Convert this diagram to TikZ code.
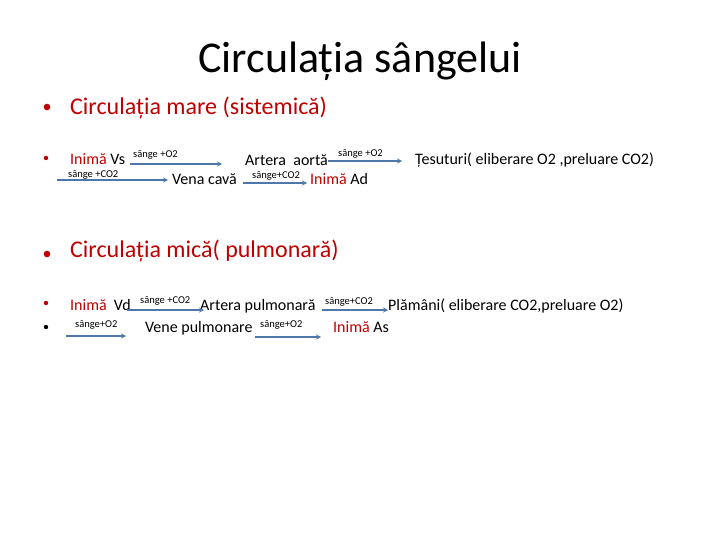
\documentclass[tikz,border=0pt]{standalone}
\usepackage{fontspec}
\setmainfont{Carlito}
\usetikzlibrary{arrows.meta}
\definecolor{slide_red}{RGB}{192,0,0}
\definecolor{arrow_blue}{RGB}{79,119,170}

\begin{document}
\begin{tikzpicture}[x=1pt,y=-1pt,line join=round,
	txt/.style={anchor=base west,inner sep=0pt,font=\fontsize{16}{19}\selectfont},
	head/.style={anchor=base west,inner sep=0pt,font=\fontsize{24}{29}\selectfont,text=slide_red},
	lbl/.style={anchor=base west,inner sep=0pt,font=\fontsize{10.5}{12}\selectfont},
	flow/.style={arrow_blue,line width=1.4pt,-{Stealth[length=5pt,width=5pt]}}]
	\useasboundingbox (0,0) rectangle (720,540);
	\node[anchor=base,inner sep=0pt,font=\fontsize{44}{53}\selectfont] (title) at (360,73) {Circulația sângelui};
	% bullets
	\foreach \y in {107,254} \fill[slide_red] (47,\y) circle (3.3);
	\foreach \y in {158,303} \fill[slide_red] (46,\y) circle (2.2);
	\fill (46,327) circle (2.2);
	% circulatia mare
	\node[head] (mare) at (70,115) {Circulația mare (sistemică)};
	\node[txt] (vs)     at (70,165)  {\textcolor{slide_red}{Inimă} Vs};
	\node[txt] (aorta)  at (245,166) {Artera\ \ aortă};
	\node[txt] (tesut)  at (415,165) {Țesuturi( eliberare O2 ,preluare CO2)};
	\node[txt] (cava)   at (172,185) {Vena cavă};
	\node[txt] (ad)     at (310,185) {\textcolor{slide_red}{Inimă} Ad};
	\coordinate (a1) at (130,164);
	\coordinate (a2) at (222,164);
	\coordinate (b1) at (328,161);
	\coordinate (b2) at (402,161);
	\coordinate (c1) at (57,180);
	\coordinate (c2) at (168,180);
	\coordinate (d1) at (243,183);
	\coordinate (d2) at (307,183);
	\draw[flow] (a1) -- (a2);
	\draw[flow] (b1) -- (b2);
	\draw[flow] (c1) -- (c2);
	\draw[flow] (d1) -- (d2);
	\node[lbl] (la) at (133,158) {sânge +O2};
	\node[lbl] (lb) at (338,157) {sânge +O2};
	\node[lbl] (lc) at (68,178)  {sânge +CO2};
	\node[lbl] (ld) at (252,179) {sânge+CO2};
	% circulatia mica
	\node[head] (mica) at (70,258) {Circulația mică( pulmonară)};
	\node[txt] (vd)     at (70,310)  {\textcolor{slide_red}{Inimă}\ \ Vd};
	\node[txt] (apulm)  at (200,310) {Artera pulmonară};
	\node[txt] (plam)   at (388,310) {Plămâni( eliberare CO2,preluare O2)};
	\node[txt] (vpulm)  at (145,332) {Vene pulmonare};
	\node[txt] (as)     at (333,332) {\textcolor{slide_red}{Inimă} As};
	\coordinate (e1) at (127,310);
	\coordinate (e2) at (204,310);
	\coordinate (f1) at (322,310);
	\coordinate (f2) at (388,310);
	\coordinate (g1) at (66,336);
	\coordinate (g2) at (126,336);
	\coordinate (h1) at (255,337);
	\coordinate (h2) at (321,337);
	\draw[flow] (e1) -- (e2);
	\draw[flow] (f1) -- (f2);
	\draw[flow] (g1) -- (g2);
	\draw[flow] (h1) -- (h2);
	\node[lbl] (le) at (140,303) {sânge +CO2};
	\node[lbl] (lf) at (325,304) {sânge+CO2};
	\node[lbl] (lg) at (75,327)  {sânge+O2};
	\node[lbl] (lh) at (260,327) {sânge+O2};
\end{tikzpicture}
\end{document}
